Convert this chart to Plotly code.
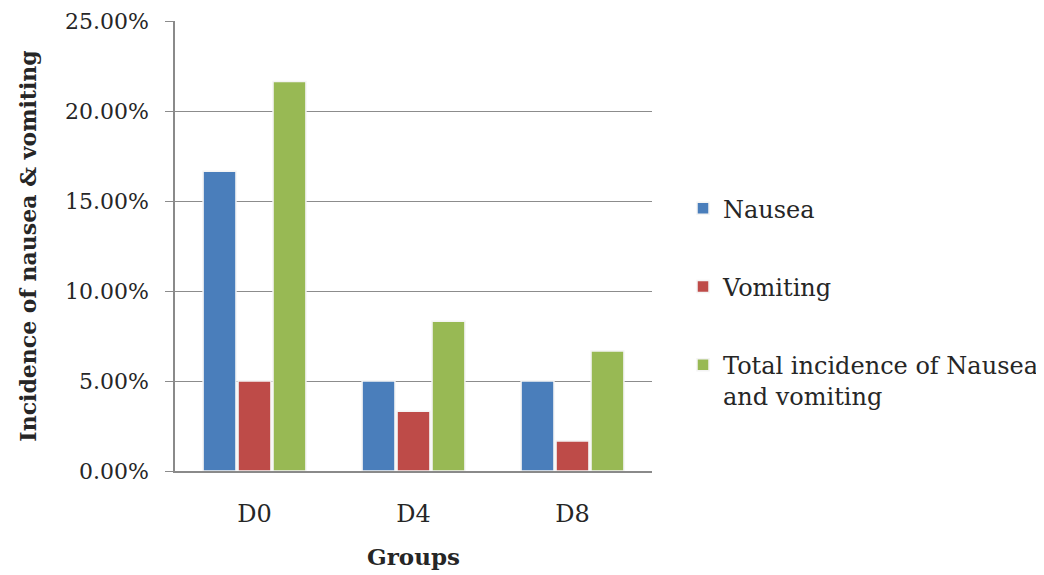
import plotly.graph_objects as go

groups = ["D0", "D4", "D8"]
nausea = [16.67, 5.00, 5.00]
vomiting = [5.00, 3.33, 1.67]
total = [21.67, 8.33, 6.67]
series_names = ["Nausea", "Vomiting", "Total incidence of Nausea<br>and vomiting"]
colors = ["#4A7EBB", "#BE4B48", "#98B954"]
y_ticks = [0, 5, 10, 15, 20, 25]
y_tick_labels = ["0.00%", "5.00%", "10.00%", "15.00%", "20.00%", "25.00%"]

serif = "DejaVu Serif, serif"
txt = "#262626"

fig = go.Figure()
for i, (name, vals) in enumerate(zip(series_names, [nausea, vomiting, total])):
    fig.add_trace(go.Bar(
        x=groups, y=vals, name=name,
        marker=dict(color=colors[i], line=dict(color="#f4f4f4", width=1.5)),
        legendgroup=str(i),
    ))

fig.update_layout(
    width=1044, height=575,
    paper_bgcolor="white", plot_bgcolor="white",
    margin=dict(l=167, r=400, t=13, b=112, autoexpand=False),
    barmode="group", bargap=0.34, bargroupgap=0.06,
    font=dict(family=serif, size=22, color=txt),
    showlegend=True,
    legend=dict(x=1.065, y=0.633, xanchor="left", yanchor="top",
                font=dict(family=serif, size=24, color=txt),
                tracegroupgap=44, itemwidth=30, valign="top",
                bgcolor="rgba(0,0,0,0)"),
    xaxis=dict(showline=True, linecolor="#8a8a8a", linewidth=1.5,
               ticks="", ticklabelstandoff=20,
               tickfont=dict(family=serif, size=24, color=txt),
               title=dict(text="<b>Groups</b>", font=dict(family=serif, size=23, color=txt), standoff=22)),
    yaxis=dict(range=[0, 25.03], tickvals=y_ticks, ticktext=y_tick_labels,
               showgrid=True, gridcolor="#8c8c8c", gridwidth=1.2,
               showline=True, linecolor="#8a8a8a", linewidth=1.5,
               ticks="outside", ticklen=8, tickcolor="#8c8c8c",
               ticklabelstandoff=12,
               zeroline=False,
               tickfont=dict(family=serif, size=22, color=txt),
               title=dict(text="<b>Incidence of nausea &amp; vomiting</b>",
                          font=dict(family=serif, size=22, color=txt), standoff=22)),
)

fig.write_html("out.html")
